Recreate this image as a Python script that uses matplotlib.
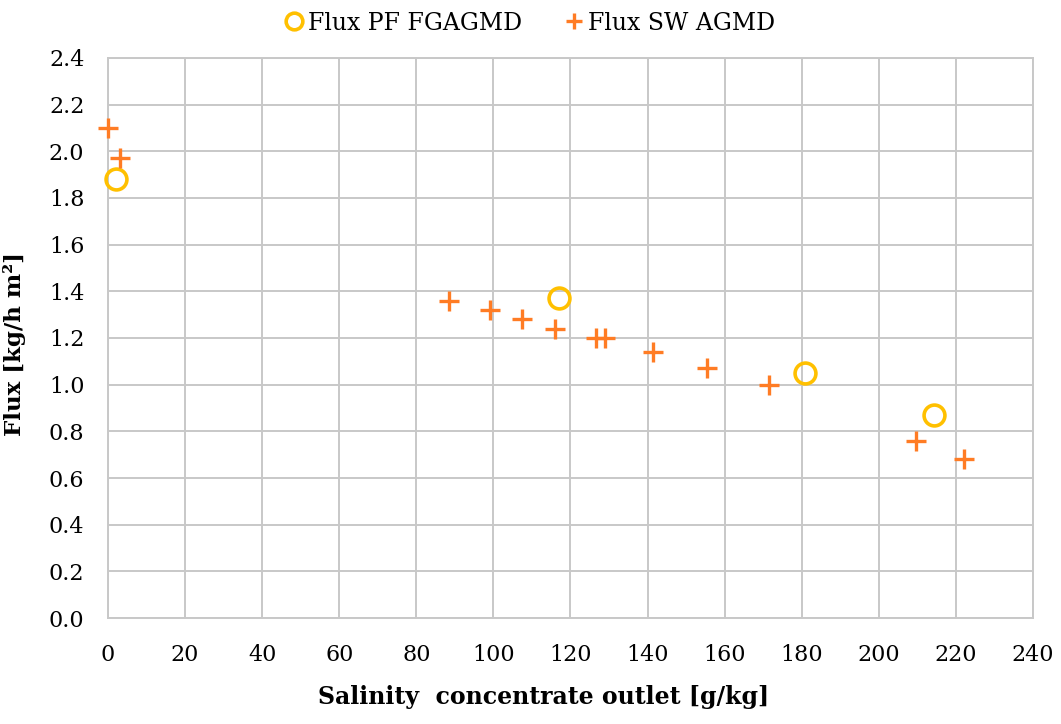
import matplotlib.pyplot as plt
import numpy as np

# Flux PF FGAGMD (circles)
pf_salinity = [2.1, 116.9, 180.8, 214.3]
pf_flux = [1.88, 1.37, 1.05, 0.87]

# Flux SW AGMD (plus)
sw_salinity = [0.0, 3.1, 88.4, 99.2, 107.4, 116.1, 126.5, 129.0, 141.3, 155.3, 171.4, 209.6, 222.0]
sw_flux = [2.10, 1.97, 1.36, 1.32, 1.28, 1.24, 1.20, 1.20, 1.14, 1.07, 1.00, 0.76, 0.68]

x_ticks = np.arange(0, 241, 20)
y_ticks = np.arange(0, 2.41, 0.2)

plt.rcParams['font.family'] = ['DejaVu Serif']

fig = plt.figure(figsize=(10.61, 7.24), dpi=100)
ax = fig.add_axes([0.1018, 0.1464, 0.8718, 0.7735])

ax.plot(pf_salinity, pf_flux, linestyle='none', marker='o', markersize=15,
        markerfacecolor='none', markeredgecolor='#FFC000', markeredgewidth=2.6,
        label='Flux PF FGAGMD', zorder=3, clip_on=False)
ax.plot(sw_salinity, sw_flux, linestyle='none', marker='+', markersize=15,
        color='#FF7C24', markeredgewidth=2.4, label='Flux SW AGMD', zorder=3, clip_on=False)

ax.set_xlim(0, 240)
ax.set_ylim(0, 2.4)
ax.set_xticks(x_ticks)
ax.set_yticks(y_ticks)
ax.set_yticklabels([f'{v:.1f}' for v in y_ticks])
ax.tick_params(length=0, labelsize=16, pad=17)
ax.tick_params(axis='x', pad=19)
ax.grid(True, color='#c8c8c8', linewidth=1.4)
ax.set_axisbelow(True)
for s in ax.spines.values():
    s.set_color('#c8c8c8')
    s.set_linewidth(1.4)

ax.set_xlabel('Salinity  concentrate outlet [g/kg]', fontsize=17, fontweight='bold')
ax.xaxis.set_label_coords(0.471, -0.12)
ax.set_ylabel('Flux [kg/h m²]', fontsize=16.5, fontweight='bold')
ax.yaxis.set_label_coords(-0.089, 0.49)

fig.legend(loc='center', bbox_to_anchor=(0.497, 0.968), ncol=2, frameon=False,
           fontsize=17, handletextpad=0.0, columnspacing=1.6, markerscale=0.8,
           handlelength=1.2)

fig.savefig('out.png', dpi=100)
